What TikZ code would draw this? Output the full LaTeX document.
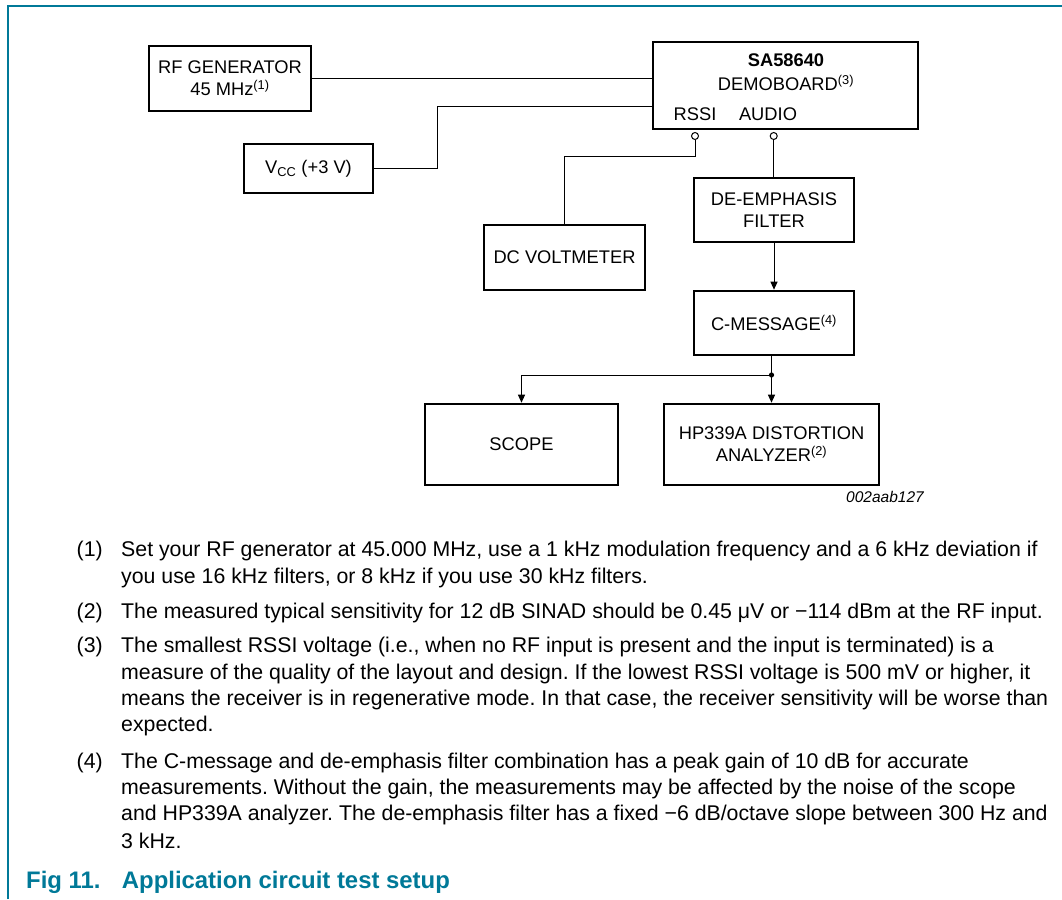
\documentclass[tikz,border=0pt]{standalone}
\usepackage{fontspec}
\setmainfont{Liberation Sans}
\usetikzlibrary{arrows.meta}
\definecolor{nxpteal}{RGB}{0,121,152}
\begin{document}
\frenchspacing
\begin{tikzpicture}[x=1pt,y=-1pt,
  blk/.style={draw, line width=2.6pt, inner sep=0pt, align=center,
    font=\fontsize{18.3}{22}\selectfont},
  wire/.style={line width=1pt},
  arr/.style={line width=1pt, -{Triangle[length=8pt,width=7pt]}},
  pin/.style={circle, draw, line width=1pt, fill=white, inner sep=0pt, minimum size=7pt},
  lbl/.style={inner sep=0pt, font=\fontsize{18.3}{22}\selectfont},
  note/.style={anchor=base west, inner sep=0pt, font=\fontsize{21.3}{24}\selectfont},
  captxt/.style={anchor=base west, inner sep=0pt, text=nxpteal, font=\bfseries\fontsize{23.9}{27}\selectfont}
]
\useasboundingbox (0,0) rectangle (1062,899);
% frame
\draw[nxpteal, line width=2pt] (8,899) -- (8,6) -- (1062,6);

% boxes
\node[blk, minimum width=162pt, minimum height=65pt] (rf) at (230,78.5) {RF GENERATOR\\45 MHz\textsuperscript{(1)}};
\node[blk, minimum width=129pt, minimum height=49pt] (vcc) at (308.5,168.5) {V\textsubscript{CC} (+3 V)};
\node[blk, minimum width=265pt, minimum height=87pt] (demo) at (785.5,85.5) {};
\node[lbl, font=\bfseries\fontsize{18.3}{22}\selectfont] (demot) at (786,60) {SA58640};
\node[lbl] (demos) at (786,83) {DEMOBOARD\textsuperscript{(3)}};
\node[lbl] (rssil) at (695,114) {RSSI};
\node[lbl] (audiol) at (768,114) {AUDIO};
\node[blk, minimum width=161pt, minimum height=65pt] (dcv) at (564.5,257.5) {DC VOLTMETER};
\node[blk, minimum width=160pt, minimum height=64pt] (deemph) at (774,210) {DE-EMPHASIS\\FILTER};
\node[blk, minimum width=160pt, minimum height=64pt] (cmsg) at (774,323) {C-MESSAGE\textsuperscript{(4)}};
\node[blk, minimum width=193pt, minimum height=81pt] (scope) at (521.5,444.5) {SCOPE};
\node[blk, minimum width=215pt, minimum height=81pt] (hp) at (771.5,444.5) {HP339A DISTORTION\\ANALYZER\textsuperscript{(2)}};
\node[anchor=base east, inner sep=0pt, font=\itshape\fontsize{15.5}{18}\selectfont] (code) at (924,502) {002aab127};

% pins
\node[pin] (rssipin) at (695,136) {};
\node[pin] (audiopin) at (773.7,136) {};

% connectors
\draw[wire] (rf.east) -- (rf.east -| demo.west);
\coordinate (vccbend) at (437.7,106);
\draw[wire] (vcc.east) -| (vccbend) -- (vccbend -| demo.west);
\coordinate (rssibend) at (695,156);
\draw[wire] (rssipin.south) -- (rssibend) -| (dcv.north);
\draw[wire] (audiopin.south) -- (audiopin.south |- deemph.north);
\draw[arr] (deemph.south) -- (cmsg.north);
\coordinate (jn) at (771.5,375);
\draw[wire] (cmsg.south -| jn) -- (jn);
\draw[arr] (jn) -- (jn |- hp.north);
\draw[arr] (jn) -| (scope.north);
\fill (jn) circle (2.6pt);

% notes
\node[note] (n1n) at (76.5,556.5) {(1)};
\node[note] (n1a) at (121,556.5) {Set your RF generator at 45.000 MHz, use a 1 kHz modulation frequency and a 6 kHz deviation if};
\node[note] (n1b) at (121,583) {you use 16 kHz filters, or 8 kHz if you use 30 kHz filters.};
\node[note] (n2n) at (76.5,618) {(2)};
\node[note] (n2a) at (121,618) {The measured typical sensitivity for 12 dB SINAD should be 0.45 μV or −114 dBm at the RF input.};
\node[note] (n3n) at (76.5,652.5) {(3)};
\node[note] (n3a) at (121,652.5) {The smallest RSSI voltage (i.e., when no RF input is present and the input is terminated) is a};
\node[note] (n3b) at (121,679) {measure of the quality of the layout and design. If the lowest RSSI voltage is 500 mV or higher, it};
\node[note] (n3c) at (121,705.5) {means the receiver is in regenerative mode. In that case, the receiver sensitivity will be worse than};
\node[note] (n3d) at (121,731.5) {expected.};
\node[note] (n4n) at (76.5,768) {(4)};
\node[note] (n4a) at (121,768) {The C-message and de-emphasis filter combination has a peak gain of 10 dB for accurate};
\node[note] (n4b) at (121,794) {measurements. Without the gain, the measurements may be affected by the noise of the scope};
\node[note] (n4c) at (121,820.5) {and HP339A analyzer. The de-emphasis filter has a fixed −6 dB/octave slope between 300 Hz and};
\node[note] (n4d) at (121,848) {3 kHz.};

% caption
\node[captxt] (figno) at (26,888) {Fig 11.};
\node[captxt] (figtitle) at (121.7,888) {Application circuit test setup};
\end{tikzpicture}
\end{document}
